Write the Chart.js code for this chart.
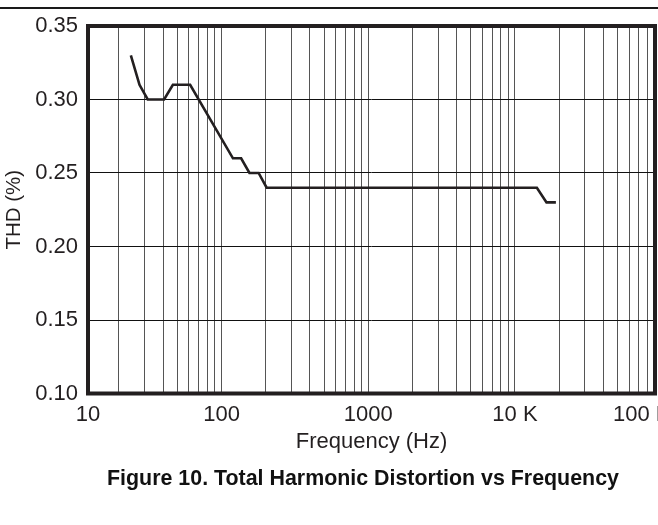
<!DOCTYPE html>
<html>
<head>
<meta charset="utf-8">
<title>THD vs Frequency</title>
<script src="https://cdn.jsdelivr.net/npm/chart.js@4.4.1/dist/chart.umd.min.js"></script>
<style>
  html, body { margin: 0; padding: 0; background: #fff; overflow: hidden; }
  #wrap { position: relative; width: 658px; height: 525px; overflow: hidden; }
  #rule { position: absolute; left: 0; top: 7px; width: 658px; height: 2px; background: #1a1a1a; }
  #thdChart { position: absolute; left: 0; top: 0; }
  #caption {
    position: absolute; left: 0; top: 466px; width: 726px;
    text-align: center; line-height: 24px;
    font: bold 21.4px "Liberation Sans", Arial, sans-serif; color: #111;
  }
</style>
</head>
<body>
<div id="wrap">
  <div id="rule"></div>
  <canvas id="thdChart" width="700" height="525"></canvas>
  <div id="caption">Figure 10. Total Harmonic Distortion vs Frequency</div>
</div>
<script>
const frequencyHz = [24.1, 27.6, 31.4, 40.6, 46.6, 61.1, 119.6, 136, 155, 179, 203, 14100, 16400, 19000];
const thdPercent = [0.33, 0.31, 0.30, 0.30, 0.31, 0.31, 0.26, 0.26, 0.25, 0.25, 0.24, 0.24, 0.23, 0.23];

// the frequency axis sits a bit inside its labelled decades: the end labels read 10 and 100 K
const freqMin = 12.3;
const freqMax = 90000;
const freqTickValues = [freqMin, 100, 1000, 10000, 73000];
const freqTickLabels = ['10', '100', '1000', '10 K', '100 K'];
const thdTicks = [0.10, 0.15, 0.20, 0.25, 0.30, 0.35];

const inkColor = '#231f20';
Chart.defaults.font.family = '"Liberation Sans", Arial, Helvetica, sans-serif';
Chart.defaults.color = inkColor;

// 1..9 x every decade, for the log grid
function freqGridValues() {
    const values = [freqMin];
    for (let decade = 10; decade < freqMax; decade *= 10) {
        for (let m = 1; m <= 9; m++) {
            const v = m * decade;
            if (v > freqMin && v < freqMax) values.push(v);
        }
    }
    values.push(freqMax);
    return values;
}
const gridSet = new Set(freqGridValues());

// heavy frame round the plot area
const frameBorder = {
    id: 'frameBorder',
    afterDraw(chart) {
        const { ctx, chartArea: a } = chart;
        ctx.save();
        ctx.strokeStyle = inkColor;
        ctx.lineWidth = 4;
        ctx.strokeRect(a.left, a.top, a.right - a.left, a.bottom - a.top);
        ctx.restore();
    }
};

const ctx = document.getElementById('thdChart');
new Chart(ctx, {
    type: 'line',
    data: {
        datasets: [{
            data: frequencyHz.map((f, i) => ({ x: f, y: thdPercent[i] })),
            borderColor: inkColor,
            borderWidth: 2.6,
            pointRadius: 0,
            tension: 0,
            fill: false
        }]
    },
    options: {
        responsive: false,
        animation: false,
        layout: { padding: { top: 26, right: 45, bottom: 51.5, left: 0 } },
        plugins: {
            legend: { display: false },
            tooltip: { enabled: false }
        },
        scales: {
            x: {
                type: 'logarithmic',
                min: freqMin,
                max: freqMax,
                afterBuildTicks: scale => {
                    const values = [...new Set([...gridSet, ...freqTickValues])].sort((a, b) => a - b);
                    scale.ticks = values.map(v => ({ value: v }));
                },
                afterFit: scale => {
                    scale.height = 80;
                    scale.paddingLeft = 0;
                    scale.paddingRight = 0;
                },
                border: { display: false },
                grid: {
                    // label-only ticks get no grid line
                    color: c => (c.tick && gridSet.has(c.tick.value)) ? '#555' : 'rgba(0,0,0,0)',
                    lineWidth: 1,
                    drawTicks: false
                },
                ticks: {
                    autoSkip: false,
                    maxRotation: 0,
                    padding: 8,
                    font: { size: 22 },
                    callback: value => {
                        const i = freqTickValues.indexOf(value);
                        return i >= 0 ? freqTickLabels[i] : '';
                    }
                },
                title: {
                    display: true,
                    text: 'Frequency (Hz)',
                    font: { size: 22 },
                    padding: { top: 0, bottom: 18 }
                }
            },
            y: {
                min: 0.10,
                max: 0.35,
                afterBuildTicks: scale => {
                    scale.ticks = thdTicks.map(v => ({ value: v }));
                },
                afterFit: scale => {
                    scale.width = 88;
                },
                border: { display: false },
                grid: { color: '#111', lineWidth: 1, drawTicks: false },
                ticks: {
                    padding: 10,
                    font: { size: 22 },
                    callback: value => value.toFixed(2)
                },
                title: {
                    display: true,
                    text: 'THD (%)',
                    font: { size: 20.5 },
                    padding: { top: 2, bottom: 0 }
                }
            }
        }
    },
    plugins: [frameBorder]
});
</script>
</body>
</html>
